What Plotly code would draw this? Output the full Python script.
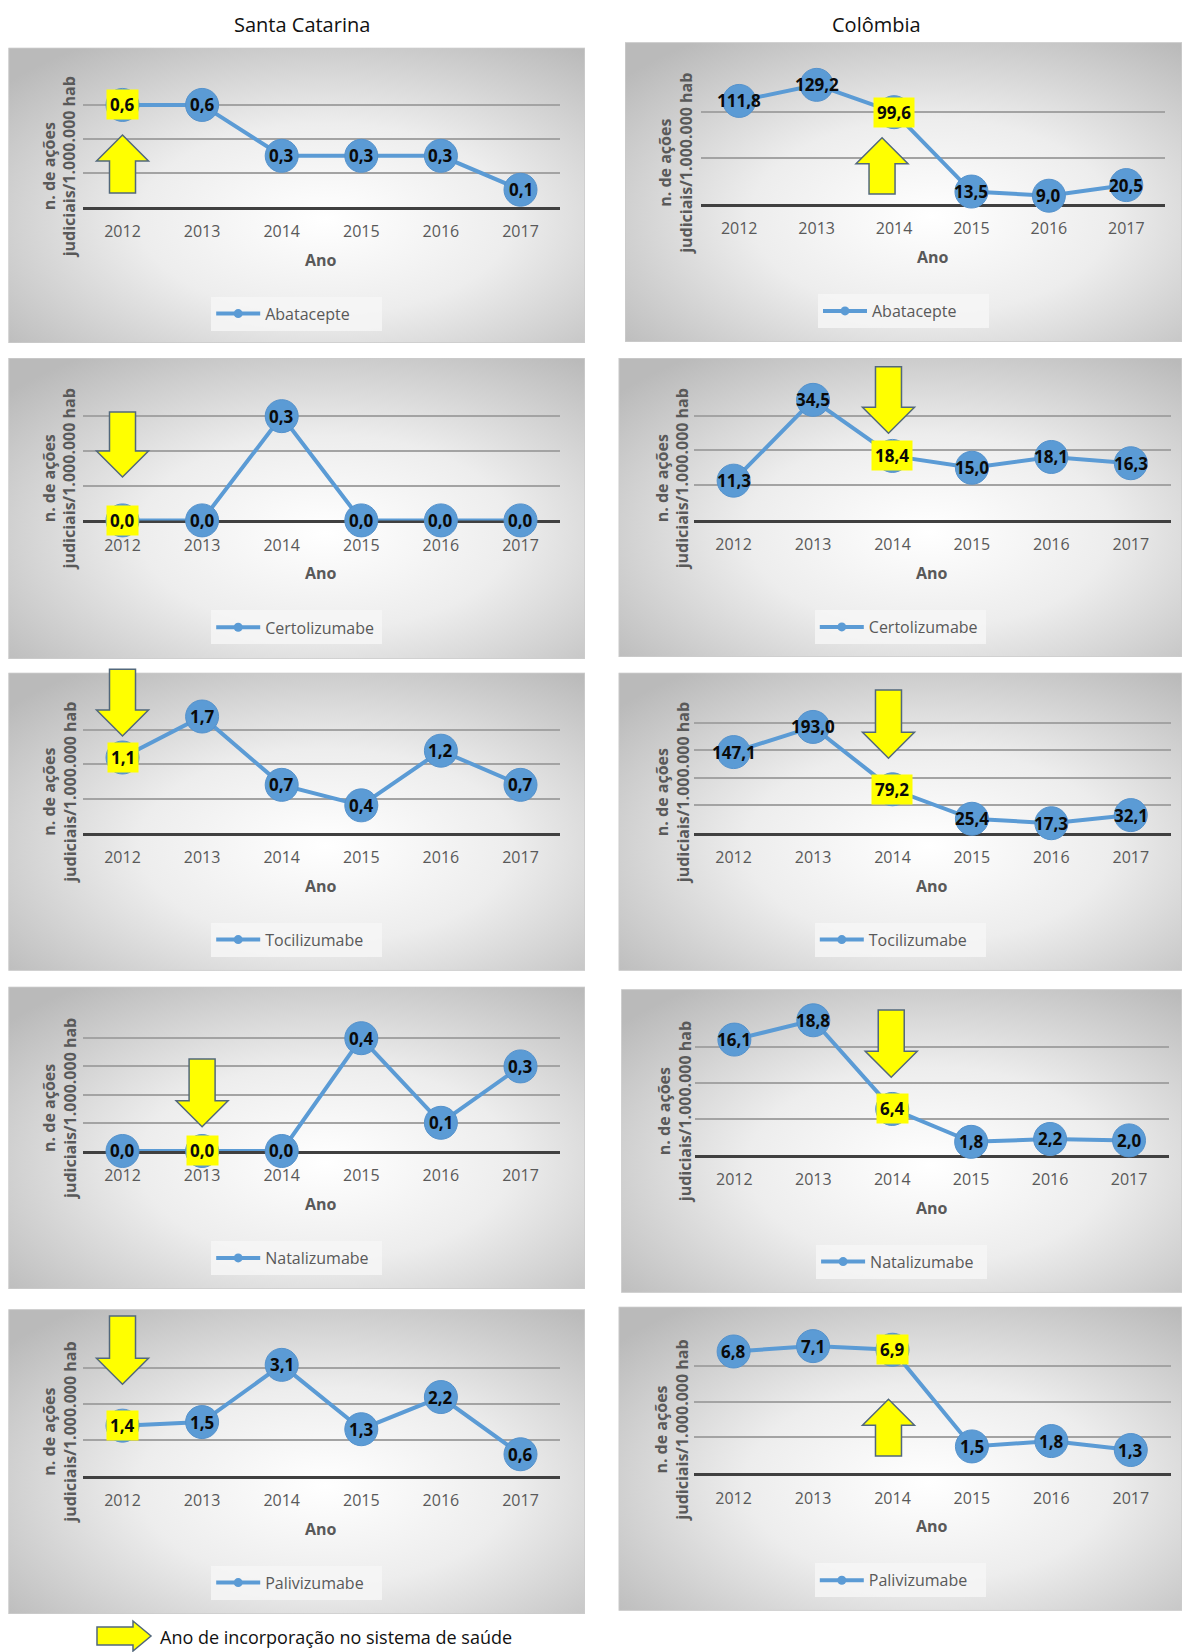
import base64
import plotly.graph_objects as go

# ---- data -------------------------------------------------------------
years = ["2012", "2013", "2014", "2015", "2016", "2017"]

sc_abatacepte = [0.6, 0.6, 0.3, 0.3, 0.3, 0.1]
co_abatacepte = [111.8, 129.2, 99.6, 13.5, 9.0, 20.5]
sc_certolizumabe = [0.0, 0.0, 0.3, 0.0, 0.0, 0.0]
co_certolizumabe = [11.3, 34.5, 18.4, 15.0, 18.1, 16.3]
sc_tocilizumabe = [1.1, 1.7, 0.7, 0.4, 1.2, 0.7]
co_tocilizumabe = [147.1, 193.0, 79.2, 25.4, 17.3, 32.1]
sc_natalizumabe = [0.0, 0.0, 0.0, 0.4, 0.1, 0.3]
co_natalizumabe = [16.1, 18.8, 6.4, 1.8, 2.2, 2.0]
sc_palivizumabe = [1.4, 1.5, 3.1, 1.3, 2.2, 0.6]
co_palivizumabe = [6.8, 7.1, 6.9, 1.5, 1.8, 1.3]

# year each drug was incorporated into the health system
sc_incorporation = ["2012", "2012", "2012", "2013", "2012"]
co_incorporation = ["2014", "2014", "2014", "2014", "2014"]

column_titles = ["Santa Catarina", "Colômbia"]
y_title = "n. de ações<br>judiciais/1.000.000 hab"
x_title = "Ano"
note_text = "Ano de incorporação no sistema de saúde"

# ---- page geometry (pixels) ---------------------------------------------
W, H = 1182, 1652
BLUE = "#5b9bd5"
GREY_TXT = "#595959"
FONT = "Open Sans"


def fx(px):
    return px / W


def fy(py):
    return 1 - py / H


# box = panel frame, plot = (x0, x1, y_top_grid, y_baseline), arrow = (dir, dx, y0, y1)
panels = [
    dict(drug="Abatacepte", vals=sc_abatacepte, inc=sc_incorporation[0], ymax=0.8, dtick=0.2,
         box=(8.4, 47.7, 585, 343), plot=(82.7, 560.3, 71, 206.7), arrow=("up", 0, 135, 193), ytx=59.5),
    dict(drug="Abatacepte", vals=co_abatacepte, inc=co_incorporation[0], ymax=150, dtick=50,
         box=(625, 42.3, 1182, 342), plot=(700.5, 1165, 65.7, 204), arrow=("up", -12, 137.7, 194), ytx=676),
    dict(drug="Certolizumabe", vals=sc_certolizumabe, inc=sc_incorporation[1], ymax=0.4, dtick=0.1,
         box=(8.4, 358, 585, 659), plot=(82.7, 560.3, 381.4, 520.4), arrow=("down", 0, 412, 477), ytx=59.5),
    dict(drug="Certolizumabe", vals=co_certolizumabe, inc=co_incorporation[1], ymax=40, dtick=10,
         box=(618.6, 358, 1182, 657), plot=(693.9, 1170.5, 380.7, 520), arrow=("down", -4, 366.7, 433.3), ytx=672),
    dict(drug="Tocilizumabe", vals=sc_tocilizumabe, inc=sc_incorporation[2], ymax=2.0, dtick=0.5,
         box=(8.4, 672.7, 585, 970.7), plot=(82.7, 560.3, 696, 832.7), arrow=("down", 0, 669.3, 736), ytx=59.5),
    dict(drug="Tocilizumabe", vals=co_tocilizumabe, inc=co_incorporation[2], ymax=250, dtick=50,
         box=(618.6, 672.7, 1182, 970.7), plot=(693.9, 1170.5, 695.7, 832.7), arrow=("down", -4, 690, 758.3), ytx=672),
    dict(drug="Natalizumabe", vals=sc_natalizumabe, inc=sc_incorporation[3], ymax=0.5, dtick=0.1,
         box=(8.4, 986.7, 585, 1289), plot=(82.7, 560.3, 1010, 1151), arrow=("down", 0, 1059, 1126.7), ytx=59.5),
    dict(drug="Natalizumabe", vals=co_natalizumabe, inc=co_incorporation[3], ymax=20, dtick=5,
         box=(621.2, 989.3, 1182, 1292.7), plot=(694.9, 1168.5, 1011.7, 1154.7), arrow=("down", -1, 1010, 1077.3), ytx=674),
    dict(drug="Palivizumabe", vals=sc_palivizumabe, inc=sc_incorporation[4], ymax=4, dtick=1,
         box=(8.4, 1309.3, 585, 1614), plot=(82.7, 560.3, 1332.7, 1475.7), arrow=("down", 0, 1316, 1384.3), ytx=59.5),
    dict(drug="Palivizumabe", vals=co_palivizumabe, inc=co_incorporation[4], ymax=8, dtick=2,
         box=(618.6, 1306.7, 1182, 1610.7), plot=(693.9, 1170.5, 1330, 1473.3), arrow=("up", -4, 1399.3, 1456), ytx=672),
]


def panel_background(w, h):
    svg = (
        f'<svg xmlns="http://www.w3.org/2000/svg" width="{w:.0f}" height="{h:.0f}" '
        f'viewBox="0 0 {w:.0f} {h:.0f}" preserveAspectRatio="none">'
        '<defs><radialGradient id="g" cx="0.55" cy="0.58" r="0.72" fx="0.55" fy="0.58">'
        '<stop offset="0" stop-color="#ffffff"/>'
        '<stop offset="0.45" stop-color="#ededed"/>'
        '<stop offset="1" stop-color="#bababa"/>'
        '</radialGradient></defs>'
        f'<rect x="0" y="0" width="{w:.0f}" height="{h:.0f}" fill="url(#g)" '
        'stroke="#cccccc" stroke-width="1.5"/></svg>'
    )
    return "data:image/svg+xml;base64," + base64.b64encode(svg.encode()).decode()


def block_arrow(direction, cx, y0, y1, head=26, half=26, shaft=13):
    """Closed SVG path (paper coords) for a vertical block arrow."""
    if direction == "down":
        yh = y1 - head
        pts = [(cx - shaft, y0), (cx + shaft, y0), (cx + shaft, yh), (cx + half, yh),
               (cx, y1), (cx - half, yh), (cx - shaft, yh)]
    else:
        yh = y0 + head
        pts = [(cx - shaft, y1), (cx + shaft, y1), (cx + shaft, yh), (cx + half, yh),
               (cx, y0), (cx - half, yh), (cx - shaft, yh)]
    return "M " + " L ".join(f"{fx(x):.5f},{fy(y):.5f}" for x, y in pts) + " Z"


def fmt(v):
    return f"{v:.1f}".replace(".", ",")


fig = go.Figure()
layout = dict(
    width=W, height=H, margin=dict(l=0, r=0, t=0, b=0),
    paper_bgcolor="white", plot_bgcolor="rgba(0,0,0,0)",
    font=dict(family=FONT, color=GREY_TXT),
    images=[], shapes=[], annotations=[],
)

for i, p in enumerate(panels):
    sfx = "" if i == 0 else str(i + 1)
    xa, ya, lg = "x" + sfx, "y" + sfx, "legend" + sfx
    bx0, by0, bx1, by1 = p["box"]
    px0, px1, ptop, pbase = p["plot"]
    ext = 1.002

    # gradient panel frame
    layout["images"].append(dict(
        source=panel_background(bx1 - bx0, by1 - by0), xref="paper", yref="paper",
        x=fx(bx0), y=fy(by0), sizex=(bx1 - bx0) / W, sizey=(by1 - by0) / H,
        xanchor="left", yanchor="top", sizing="stretch", layer="below",
    ))

    top_px = pbase - (pbase - ptop) * ext
    layout["xaxis" + sfx] = dict(
        domain=[fx(px0), fx(px1)], anchor=ya, type="category",
        categoryorder="array", categoryarray=years, range=[-0.5, 5.5],
        showgrid=False, zeroline=False, ticks="", showline=True,
        linecolor="#404040", linewidth=3, layer="below traces",
        tickfont=dict(family=FONT, size=16, color=GREY_TXT), ticklabelstandoff=8,
        fixedrange=True,
    )
    layout["yaxis" + sfx] = dict(
        domain=[fy(pbase), fy(top_px)], anchor=xa, range=[0, p["ymax"] * ext],
        tick0=0, dtick=p["dtick"], showgrid=True, gridcolor="#a3a3a3", gridwidth=1.5,
        zeroline=False, showticklabels=False, ticks="", showline=False,
        layer="below traces", fixedrange=True,
    )

    fig.add_trace(go.Scatter(
        x=years, y=p["vals"], mode="lines+markers", xaxis=xa, yaxis=ya,
        line=dict(color=BLUE, width=4),
        marker=dict(size=33, color=BLUE, line=dict(color="#5592cc", width=1)),
        cliponaxis=False, showlegend=False, hoverinfo="skip",
    ))
    # legend sample with a small marker
    fig.add_trace(go.Scatter(
        x=[None], y=[None], mode="lines+markers", xaxis=xa, yaxis=ya,
        line=dict(color=BLUE, width=4), marker=dict(size=9, color=BLUE),
        name=p["drug"], legend=lg, showlegend=True,
    ))
    layout[lg] = dict(
        x=fx((bx0 + bx1) / 2), y=fy(pbase + 107), xanchor="center", yanchor="middle",
        xref="paper", yref="paper", bgcolor="rgba(246,246,246,0.85)", borderwidth=0,
        font=dict(family=FONT, size=16, color=GREY_TXT), itemwidth=44,
        orientation="h", entrywidthmode="pixels", entrywidth=112,
    )

    # value labels (category axis positions are the serial index of each year)
    for k, (yr, v) in enumerate(zip(years, p["vals"])):
        ann = dict(
            x=k, y=v, xref=xa, yref=ya, text=fmt(v), showarrow=False,
            font=dict(family=FONT, size=17, color="#0a0a0a", weight=700),
            borderpad=3, xanchor="center", yanchor="middle",
        )
        if yr == p["inc"]:
            ann["bgcolor"] = "#ffff00"
        layout["annotations"].append(ann)

    # axis titles
    layout["annotations"].append(dict(
        x=fx(p["ytx"]), y=fy((ptop + pbase) / 2 + 29), xref="paper", yref="paper",
        text=y_title, textangle=-90, showarrow=False, xanchor="center", yanchor="middle",
        font=dict(family=FONT, size=16, color=GREY_TXT, weight=700),
    ))
    layout["annotations"].append(dict(
        x=fx((px0 + px1) / 2), y=fy(pbase + 53), xref="paper", yref="paper",
        text=x_title, showarrow=False, xanchor="center", yanchor="middle",
        font=dict(family=FONT, size=16, color=GREY_TXT, weight=700),
    ))

    # incorporation arrow
    direction, dx, ay0, ay1 = p["arrow"]
    step = (px1 - px0) / len(years)
    cx = px0 + step * (years.index(p["inc"]) + 0.5) + dx
    layout["shapes"].append(dict(
        type="path", path=block_arrow(direction, cx, ay0, ay1), xref="paper", yref="paper",
        fillcolor="#ffff00", line=dict(color="#52687c", width=1.5), layer="above",
    ))

# column headings
for title, cx in zip(column_titles, [302, 876]):
    layout["annotations"].append(dict(
        x=fx(cx), y=fy(24), xref="paper", yref="paper", text=title, showarrow=False,
        xanchor="center", yanchor="middle", font=dict(family=FONT, size=20, color="#111111"),
    ))

# key for the arrows
kx0, kx1, ky0, ky1 = 97, 151, 1621, 1651
kh, ks = 18, 9
kmid = (ky0 + ky1) / 2
key_pts = [(kx0, kmid - ks), (kx1 - kh, kmid - ks), (kx1 - kh, ky0), (kx1, kmid),
           (kx1 - kh, ky1), (kx1 - kh, kmid + ks), (kx0, kmid + ks)]
layout["shapes"].append(dict(
    type="path", path="M " + " L ".join(f"{fx(x):.5f},{fy(y):.5f}" for x, y in key_pts) + " Z",
    xref="paper", yref="paper", fillcolor="#ffff00", line=dict(color="#52687c", width=1.5),
))
layout["annotations"].append(dict(
    x=fx(158), y=fy(1637), xref="paper", yref="paper", text=note_text, showarrow=False,
    xanchor="left", yanchor="middle", font=dict(family=FONT, size=18, color="#111111"),
))

fig.update_layout(**layout)
fig.write_html("out.html")
